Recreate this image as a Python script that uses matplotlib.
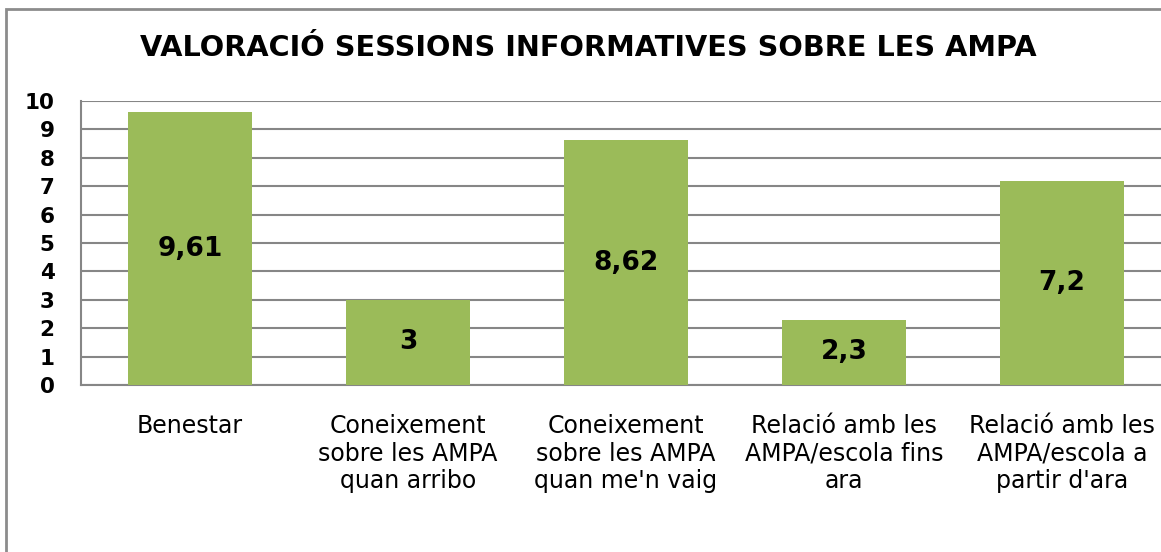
import matplotlib.pyplot as plt
from matplotlib.patches import Rectangle

categories = ["Benestar",
              "Coneixement\nsobre les AMPA\nquan arribo",
              "Coneixement\nsobre les AMPA\nquan me'n vaig",
              "Relació amb les\nAMPA/escola fins\nara",
              "Relació amb les\nAMPA/escola a\npartir d'ara"]
values = [9.61, 3, 8.62, 2.3, 7.2]
value_labels = ["9,61", "3", "8,62", "2,3", "7,2"]
yticks = list(range(0, 11))

plt.rcParams['font.family'] = ['Verdana', 'DejaVu Sans']

fig = plt.figure(figsize=(11.61, 5.52), dpi=100)
# chart frame (cut off on the right and bottom like the screenshot)
fig.patches.append(Rectangle((6/1161, -0.2), 1.2, 1.2 - 9/552, transform=fig.transFigure,
                             fill=False, edgecolor='#8c8c8c', linewidth=2, zorder=0))

ax = fig.add_axes([81/1161, 167/552, 1090/1161, 284/552])
x = range(len(categories))
ax.bar(x, values, width=0.57, color='#9bbb59', zorder=3)
ax.set_xlim(-0.5, len(categories) - 0.5)
ax.set_ylim(0, 10)
ax.set_yticks(yticks)
ax.set_yticklabels([str(t) for t in yticks], fontsize=15.5, fontweight='bold')
ax.set_xticks(list(x))
ax.set_xticklabels(categories, fontsize=17, linespacing=1.18, va='top')
ax.tick_params(axis='x', length=0, pad=21)
ax.tick_params(axis='y', length=0, pad=19)
ax.yaxis.grid(True, color='#868686', linewidth=1.5, zorder=0)
ax.set_axisbelow(True)
for s in ['top', 'right']:
    ax.spines[s].set_visible(False)
ax.spines['left'].set_color('#868686')
ax.spines['bottom'].set_color('#868686')
ax.spines['left'].set_linewidth(1.5)
ax.spines['bottom'].set_linewidth(1.5)

for i, v in enumerate(values):
    ax.text(i, v / 2, value_labels[i], ha='center', va='center',
            fontsize=19, fontweight='bold', zorder=4)

fig.text(588/1161, 1 - 48/552, "VALORACIÓ SESSIONS INFORMATIVES SOBRE LES AMPA",
         ha='center', va='center', fontsize=20.7, fontweight='bold')

fig.savefig('out.png', dpi=100)
